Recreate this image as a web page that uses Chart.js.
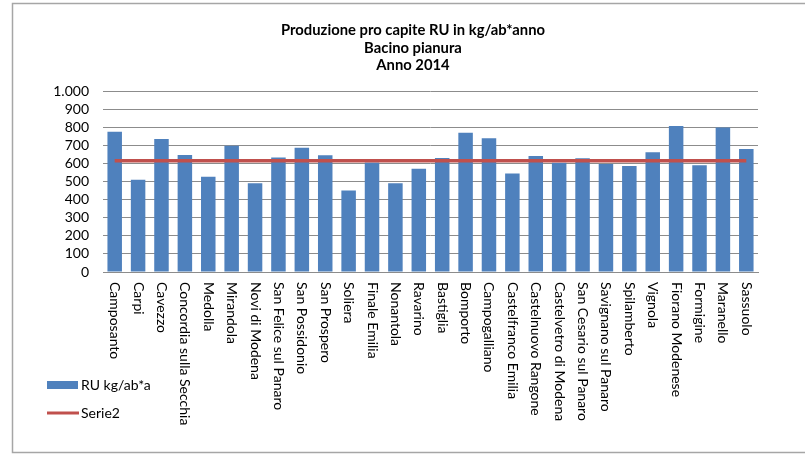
<!DOCTYPE html>
<html>
<head>
<meta charset="utf-8">
<script src="https://cdn.jsdelivr.net/npm/chart.js@4/dist/chart.umd.min.js"></script>
<style>
  html, body { margin: 0; padding: 0; background: #fff; }
  #wrap { width: 805px; height: 455px; position: relative; }
</style>
</head>
<body>
<div id="wrap"><canvas id="c" width="805" height="455"></canvas></div>
<script>
// Comuni del bacino di pianura
const comuni = [
  'Camposanto', 'Carpi', 'Cavezzo', 'Concordia sulla Secchia', 'Medolla',
  'Mirandola', 'Novi di Modena', 'San Felice sul Panaro', 'San Possidonio',
  'San Prospero', 'Soliera', 'Finale Emilia', 'Nonantola', 'Ravarino',
  'Bastiglia', 'Bomporto', 'Campogalliano', 'Castelfranco Emilia',
  'Castelnuovo Rangone', 'Castelvetro di Modena', 'San Cesario sul Panaro',
  'Savignano sul Panaro', 'Spilamberto', 'Vignola', 'Fiorano Modenese',
  'Formigine', 'Maranello', 'Sassuolo'
];

// Produzione pro capite RU (kg/ab*anno)
const ruKgAb = [
  775, 509, 735, 647, 526, 698, 491, 632, 687, 645, 450, 605, 491, 570,
  630, 770, 739, 544, 641, 603, 629, 597, 585, 662, 807, 590, 798, 680
];

// Media del bacino
const serie2 = [
  614, 614, 614, 614, 614, 614, 614, 614, 614, 614, 614, 614, 614, 614,
  614, 614, 614, 614, 614, 614, 614, 614, 614, 614, 614, 614, 614, 614
];

const titolo = ['Produzione pro capite RU in kg/ab*anno', 'Bacino pianura', 'Anno 2014'];
const yTicks = [0, 100, 200, 300, 400, 500, 600, 700, 800, 900, 1000];

const FONT = 'Lato, "Open Sans", sans-serif';

// Cornice, titolo, etichette verticali dei comuni e legenda
const decorazioni = {
  id: 'decorazioni',
  beforeDraw(chart) {
    const ctx = chart.ctx;
    ctx.save();
    ctx.fillStyle = '#ffffff';
    ctx.fillRect(0, 0, chart.width, chart.height);
    ctx.strokeStyle = '#a6a6a6';
    ctx.lineWidth = 1.5;
    ctx.strokeRect(12.5, 3.5, 820, 449);
    ctx.restore();
  },
  afterDraw(chart) {
    const ctx = chart.ctx;
    ctx.save();
    // titolo
    ctx.fillStyle = '#000';
    ctx.font = 'bold 14.8px ' + FONT;
    ctx.textAlign = 'center';
    ctx.textBaseline = 'middle';
    const ty = [30, 48, 65];
    titolo.forEach((t, i) => ctx.fillText(t, 413, ty[i]));

    // etichette asse x, ruotate in senso orario
    const xs = chart.scales.x;
    ctx.font = '14px ' + FONT;
    ctx.textAlign = 'left';
    ctx.textBaseline = 'middle';
    chart.data.labels.forEach((lab, i) => {
      const x = xs.getPixelForValue(i);
      ctx.save();
      ctx.translate(x, 282);
      ctx.rotate(Math.PI / 2);
      ctx.fillText(lab, 0, 0);
      ctx.restore();
    });

    // legenda
    const ds = chart.data.datasets;
    ctx.font = '14px ' + FONT;
    ctx.fillStyle = ds[0].backgroundColor;
    ctx.fillRect(47, 381, 31, 8);
    ctx.fillStyle = '#000';
    ctx.fillText(ds[0].label, 81, 385);
    ctx.strokeStyle = ds[1].borderColor;
    ctx.lineWidth = 3;
    ctx.beginPath();
    ctx.moveTo(47, 413);
    ctx.lineTo(79, 413);
    ctx.stroke();
    ctx.fillText(ds[1].label, 81, 413);
    ctx.restore();
  }
};

new Chart(document.getElementById('c'), {
  data: {
    labels: comuni,
    datasets: [
      {
        type: 'bar',
        label: 'RU kg/ab*a',
        data: ruKgAb,
        backgroundColor: '#4F81BD',
        borderWidth: 0,
        barPercentage: 0.62,
        categoryPercentage: 1,
        order: 1
      },
      {
        type: 'line',
        label: 'Serie2',
        data: serie2,
        borderColor: '#C0504D',
        backgroundColor: '#C0504D',
        borderWidth: 3.5,
        pointRadius: 0,
        order: 0
      }
    ]
  },
  options: {
    responsive: false,
    animation: false,
    layout: { padding: { left: 0, top: 91, right: 47, bottom: 183 } },
    plugins: {
      legend: { display: false },
      title: { display: false },
      tooltip: { enabled: false }
    },
    scales: {
      x: {
        ticks: { display: false },
        grid: { display: false },
        border: { display: true, color: '#8c8c8c', width: 1 },
        afterFit(s) { s.height = 0; }
      },
      y: {
        min: 0,
        max: 1000,
        afterBuildTicks(s) { s.ticks = yTicks.map(v => ({ value: v })); },
        afterFit(s) { s.width = 103; },
        ticks: {
          autoSkip: false,
          padding: 14,
          color: '#000',
          font: { family: FONT, size: 14 },
          callback: v => v.toLocaleString('it-IT').replace(/\s/g, '.')
        },
        grid: { color: '#8c8c8c', lineWidth: 1, drawTicks: false },
        border: { display: false }
      }
    }
  },
  plugins: [decorazioni]
});
</script>
</body>
</html>
